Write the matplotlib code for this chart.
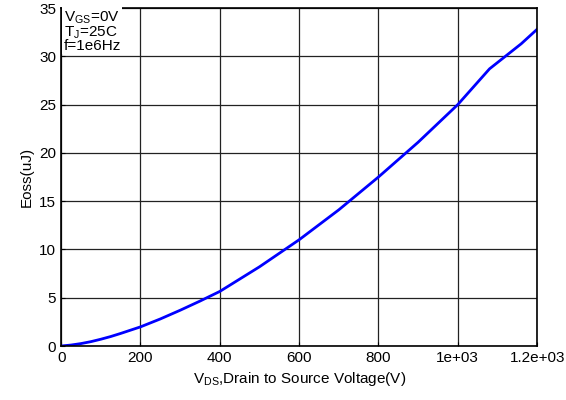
import matplotlib.pyplot as plt

plt.rcParams['font.family'] = ['Liberation Sans', 'DejaVu Sans']

# Eoss vs Vds
vds = [0, 25, 50, 75, 100, 125, 150, 200, 250, 300, 350, 400, 500, 600, 700,
       800, 900, 1000, 1080, 1120, 1160, 1200]
eoss = [0, 0.1, 0.25, 0.45, 0.7, 0.98, 1.3, 1.98, 2.8, 3.7, 4.65, 5.65, 8.2,
        11.0, 14.1, 17.5, 21.1, 25.0, 28.7, 30.0, 31.3, 32.8]

xticks = [0, 200, 400, 600, 800, 1000, 1200]
xticklabels = ['0', '200', '400', '600', '800', '1e+03', '1.2e+03']
yticks = [0, 5, 10, 15, 20, 25, 30, 35]

fig = plt.figure(figsize=(5.66, 4), dpi=100)
ax = fig.add_axes([0.108, 0.135, 0.841, 0.845])

ax.plot(vds, eoss, color='#0000ff', linewidth=2)

ax.set_xlim(0, 1200)
ax.set_ylim(0, 35)
ax.set_xticks(xticks)
ax.set_xticklabels(xticklabels)
ax.set_yticks(yticks)
ax.grid(True, color='#222222', linewidth=0.9)
ax.tick_params(direction='in', labelsize=11, length=3)
for s in ax.spines.values():
    s.set_linewidth(1.2)

ax.set_xlabel('V$_{\\mathregular{DS}}$,Drain to Source Voltage(V)', fontsize=11, labelpad=4)
ax.set_ylabel('Eoss(uJ)', fontsize=11)

ax.text(0.005, 0.997,
        'V$_{\\mathregular{GS}}$=0V\nT$_{\\mathregular{J}}$=25C\nf=1e6Hz',
        transform=ax.transAxes, ha='left', va='top', fontsize=11,
        linespacing=0.85,
        bbox=dict(facecolor='white', edgecolor='none', pad=1))

fig.savefig('out.png', dpi=100)
